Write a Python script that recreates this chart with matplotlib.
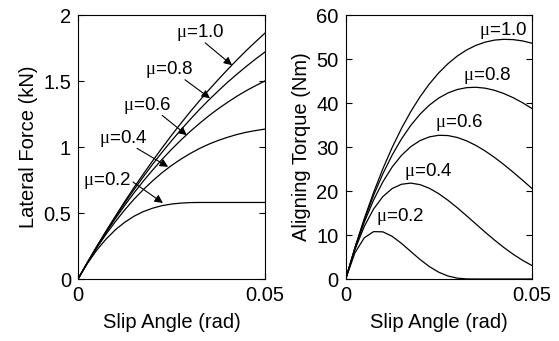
import numpy as np
import matplotlib
matplotlib.use('Agg')
import matplotlib.pyplot as plt

plt.rcParams['font.family'] = ['Liberation Sans', 'DejaVu Sans']
# upright serif mu, like the Symbol font in the original
plt.rcParams['mathtext.fontset'] = 'custom'
plt.rcParams['mathtext.it'] = 'Liberation Serif'
plt.rcParams['mathtext.rm'] = 'Liberation Sans'

# slip angle (rad), step 0.0025
slip = [0.0, 0.0025, 0.005, 0.0075, 0.01, 0.0125, 0.015, 0.0175, 0.02, 0.0225, 0.025,
        0.0275, 0.03, 0.0325, 0.035, 0.0375, 0.04, 0.0425, 0.045, 0.0475, 0.05]

# lateral force (kN)
fy_10 = [0, 0.124, 0.245, 0.363, 0.476, 0.587, 0.694, 0.797, 0.897, 0.994, 1.088,
         1.179, 1.267, 1.351, 1.433, 1.511, 1.587, 1.660, 1.731, 1.798, 1.863]
fy_08 = [0, 0.124, 0.244, 0.359, 0.469, 0.576, 0.678, 0.776, 0.871, 0.961, 1.047,
         1.130, 1.209, 1.285, 1.357, 1.425, 1.491, 1.552, 1.611, 1.667, 1.720]
fy_06 = [0, 0.123, 0.241, 0.352, 0.458, 0.558, 0.653, 0.743, 0.827, 0.907, 0.982,
         1.052, 1.118, 1.179, 1.237, 1.290, 1.339, 1.385, 1.427, 1.465, 1.501]
fy_04 = [0, 0.122, 0.235, 0.339, 0.435, 0.524, 0.605, 0.678, 0.745, 0.806, 0.860,
         0.908, 0.951, 0.989, 1.022, 1.050, 1.074, 1.095, 1.112, 1.125, 1.136]
fy_02 = [0, 0.117, 0.218, 0.302, 0.373, 0.430, 0.476, 0.511, 0.537, 0.556, 0.568,
         0.575, 0.579, 0.580, 0.580, 0.580, 0.580, 0.580, 0.580, 0.580, 0.580]

# aligning torque (Nm)
mz_10 = [0, 7.18, 13.73, 19.68, 25.07, 29.91, 34.23, 38.06, 41.43, 44.35, 46.85,
         48.95, 50.68, 52.06, 53.11, 53.85, 54.31, 54.49, 54.42, 54.13, 53.62]
mz_08 = [0, 7.10, 13.42, 19.02, 23.93, 28.19, 31.84, 34.92, 37.48, 39.53, 41.13,
         42.30, 43.08, 43.50, 43.59, 43.38, 42.90, 42.17, 41.23, 40.10, 38.80]
mz_06 = [0, 6.97, 12.92, 17.95, 22.10, 25.47, 28.11, 30.09, 31.47, 32.31, 32.67,
         32.61, 32.17, 31.41, 30.37, 29.10, 27.64, 26.03, 24.30, 22.49, 20.64]
mz_04 = [0, 6.71, 11.96, 15.92, 18.74, 20.57, 21.54, 21.80, 21.45, 20.62, 19.40,
         17.90, 16.20, 14.38, 12.51, 10.65, 8.86, 7.18, 5.64, 4.27, 3.10]
mz_02 = [0, 5.98, 9.37, 10.77, 10.72, 9.70, 8.10, 6.26, 4.43, 2.82, 1.55,
         0.68, 0.20, 0.02, 0, 0, 0, 0, 0, 0, 0]

mu_labels = ['1.0', '0.8', '0.6', '0.4', '0.2']

# label text, arrow tail, arrow head (left plot)
fy_text = [(0.0326, 1.87), (0.0243, 1.59), (0.01845, 1.318), (0.012, 1.068), (0.0078, 0.75)]
fy_tail = [(0.0340, 1.79), (0.0286, 1.51), (0.0225, 1.24), (0.0158, 0.99), (0.0147, 0.735)]
fy_head = [(0.0412, 1.62), (0.0353, 1.37), (0.0291, 1.09), (0.0241, 0.85), (0.0227, 0.576)]
# label positions (right plot)
mz_text = [(0.0423, 56.4), (0.0380, 46.2), (0.0305, 35.5), (0.0221, 24.4), (0.0146, 14.3)]

fig = plt.figure(figsize=(5.59, 3.41), dpi=100)
ax1 = fig.add_axes([0.1395, 0.1818, 0.3345, 0.774])
ax2 = fig.add_axes([0.6184, 0.1818, 0.3327, 0.774])

lw = 0.9
fs = 14.5
for fy in [fy_10, fy_08, fy_06, fy_04, fy_02]:
    ax1.plot(slip, fy, color='k', lw=lw)
for mz in [mz_10, mz_08, mz_06, mz_04, mz_02]:
    ax2.plot(slip, mz, color='k', lw=lw)

for lab, t, a, b in zip(mu_labels, fy_text, fy_tail, fy_head):
    ax1.text(t[0], t[1], r'$\mu$=' + lab, ha='center', va='center', fontsize=13.5)
    ax1.annotate('', xy=b, xytext=a,
                 arrowprops=dict(arrowstyle='-|>', color='k', lw=0.8,
                                 mutation_scale=12, shrinkA=0, shrinkB=0))
for lab, t in zip(mu_labels, mz_text):
    ax2.text(t[0], t[1], r'$\mu$=' + lab, ha='center', va='center', fontsize=13.5)

ax1.set_xlim(0, 0.05)
ax1.set_ylim(0, 2)
ax1.set_xticks([0, 0.05])
ax1.set_xticklabels(['0', '0.05'])
ax1.set_yticks([0, 0.5, 1, 1.5, 2])
ax1.set_yticklabels(['0', '0.5', '1', '1.5', '2'])
ax1.set_xlabel('Slip Angle (rad)', fontsize=fs, labelpad=6)
ax1.set_ylabel('Lateral Force (kN)', fontsize=fs, labelpad=4)

ax2.set_xlim(0, 0.05)
ax2.set_ylim(0, 60)
ax2.set_xticks([0, 0.05])
ax2.set_xticklabels(['0', '0.05'])
ax2.set_yticks([0, 10, 20, 30, 40, 50, 60])
ax2.set_xlabel('Slip Angle (rad)', fontsize=fs, labelpad=6)
ax2.set_ylabel('Aligning Torque (Nm)', fontsize=fs, labelpad=4)

for ax in [ax1, ax2]:
    ax.tick_params(direction='in', top=True, right=True, length=4, width=0.8,
                   labelsize=fs, pad=5)
    for s in ax.spines.values():
        s.set_linewidth(0.8)

fig.savefig('out.png', dpi=100)
